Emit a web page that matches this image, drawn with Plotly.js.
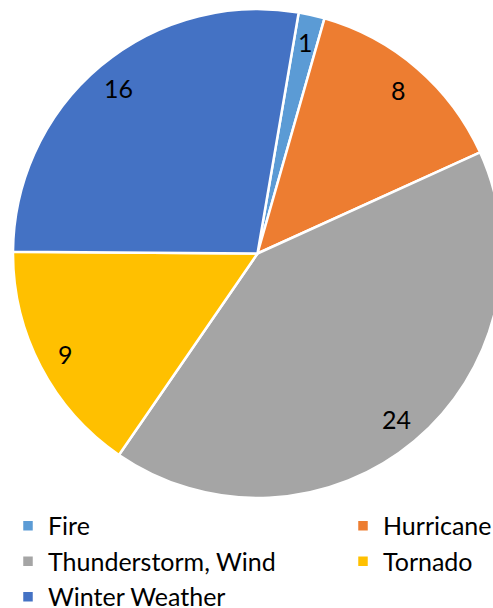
<!DOCTYPE html>
<html>
<head>
<meta charset="utf-8">
<script src="https://cdn.plot.ly/plotly-3.0.1.min.js"></script>
<style>
html, body { margin:0; padding:0; overflow:hidden; background:#fff; }
#chart { width:800px; height:608px; }
</style>
</head>
<body>
<div id="chart"></div>
<script>
const categories = ["Fire", "Hurricane", "Thunderstorm, Wind", "Tornado", "Winter Weather"];
const counts = [1, 8, 24, 9, 16];
const colors = ["#5B9BD5", "#ED7D31", "#A5A5A5", "#FFC000", "#4472C4"];

const FONT = "Lato, 'Liberation Sans', sans-serif";
const W = 800, H = 608;
const ROTATION = 9.7;
const DOMAIN_X = [0, 0.64375];
const DOMAIN_Y = [0.1809, 0.9852];
const LABEL_RADIUS = 0.885;

const trace = {
  type: "pie",
  labels: categories,
  values: counts,
  sort: false,
  direction: "clockwise",
  rotation: ROTATION,
  marker: { colors: colors, line: { color: "#ffffff", width: 2.5 } },
  textinfo: "none",
  hoverinfo: "none",
  domain: { x: DOMAIN_X, y: DOMAIN_Y }
};

// value labels placed near the outer edge of each slice (derived from the data)
const total = counts.reduce((a, b) => a + b, 0);
const cx = (DOMAIN_X[0] + DOMAIN_X[1]) / 2;
const cy = (DOMAIN_Y[0] + DOMAIN_Y[1]) / 2;
const rPx = Math.min((DOMAIN_X[1] - DOMAIN_X[0]) * W, (DOMAIN_Y[1] - DOMAIN_Y[0]) * H) / 2;
let cum = 0;
const annotations = counts.map((v) => {
  const mid = (ROTATION + (cum + v / 2) / total * 360) * Math.PI / 180;
  cum += v;
  const d = rPx * LABEL_RADIUS;
  return {
    xref: "paper", yref: "paper",
    x: cx + d * Math.sin(mid) / W,
    y: cy + d * Math.cos(mid) / H,
    xanchor: "center", yanchor: "middle",
    text: String(v),
    showarrow: false,
    font: { family: FONT, size: 25, color: "#000000" }
  };
});

const layout = {
  width: W,
  height: H,
  margin: { l: 0, r: 0, t: 0, b: 0, autoexpand: false },
  paper_bgcolor: "#ffffff",
  showlegend: true,
  legend: {
    orientation: "h",
    x: 0.01,
    xanchor: "left",
    y: 0.1727,
    yanchor: "top",
    entrywidth: 290,
    entrywidthmode: "pixels",
    font: { family: FONT, size: 25, color: "#000000" },
    bgcolor: "rgba(0,0,0,0)"
  },
  annotations: annotations
};

Plotly.newPlot("chart", [trace], layout, { staticPlot: true, displayModeBar: false });
</script>
</body>
</html>
